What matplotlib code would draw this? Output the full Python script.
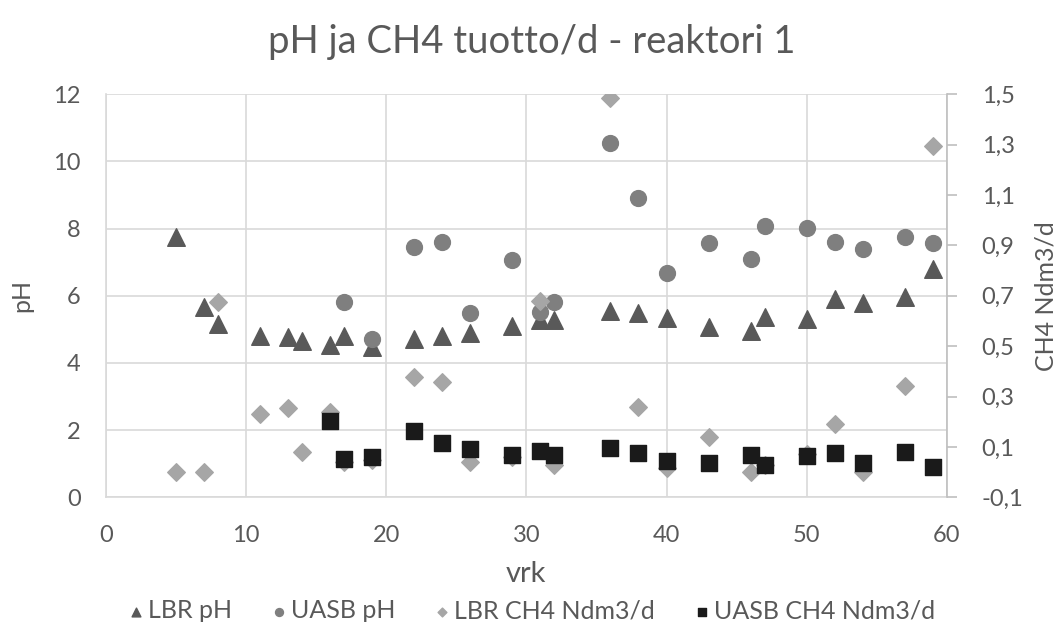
import numpy as np
import matplotlib
matplotlib.use("Agg")
import matplotlib.pyplot as plt
from matplotlib.ticker import FuncFormatter

plt.rcParams['font.family'] = ['Lato', 'DejaVu Sans']

# LBR pH (left axis)
lbr_ph_day = [5, 7, 8, 11, 13, 14, 16, 17, 19, 22, 24, 26, 29, 31, 32, 36, 38, 40,
              43, 46, 47, 50, 52, 54, 57, 59]
lbr_ph = [7.75, 5.67, 5.16, 4.81, 4.78, 4.66, 4.53, 4.81, 4.48, 4.70, 4.81, 4.88, 5.10,
          5.28, 5.28, 5.54, 5.49, 5.33, 5.08, 4.96, 5.36, 5.31, 5.90, 5.80, 5.97, 6.81]

# UASB pH (left axis)
uasb_ph_day = [17, 19, 22, 24, 26, 29, 31, 32, 36, 38, 40, 43, 46, 47, 50, 52, 54, 57, 59]
uasb_ph = [5.82, 4.70, 7.46, 7.61, 5.48, 7.06, 5.52, 5.82, 10.55, 8.92, 6.67, 7.56, 7.11,
           8.07, 8.02, 7.61, 7.39, 7.74, 7.56]

# LBR CH4 Ndm3/d (right axis)
lbr_ch4_day = [5, 7, 8, 11, 13, 14, 16, 17, 19, 22, 24, 26, 29, 31, 32, 36, 38, 40,
               43, 46, 47, 50, 52, 54, 57, 59]
lbr_ch4 = [0.0, 0.0, 0.674, 0.23, 0.253, 0.081, 0.24, 0.04, 0.05, 0.379, 0.356, 0.041,
           0.06, 0.68, 0.028, 1.484, 0.257, 0.015, 0.138, 0.002, 0.03, 0.07, 0.191, 0.0,
           0.342, 1.296]

# UASB CH4 Ndm3/d (right axis)
uasb_ch4_day = [16, 17, 19, 22, 24, 26, 29, 31, 32, 36, 38, 40, 43, 46, 47, 50, 52, 54, 57, 59]
uasb_ch4 = [0.204, 0.052, 0.061, 0.164, 0.114, 0.09, 0.068, 0.084, 0.068, 0.097, 0.075,
            0.045, 0.035, 0.068, 0.028, 0.065, 0.075, 0.037, 0.081, 0.021]

TXT = '#595959'
GRID = '#d9d9d9'

fig = plt.figure(figsize=(10.64, 6.26), dpi=100)
ax = fig.add_axes([0.0993, 0.2056, 0.7907, 0.6438])
ax2 = ax.twinx()

ax.scatter(lbr_ph_day, lbr_ph, marker='^', s=160, color='#595959', label='LBR pH', zorder=3)
ax.scatter(uasb_ph_day, uasb_ph, marker='o', s=130, color='#7f7f7f', label='UASB pH', zorder=4)
ax2.scatter(lbr_ch4_day, lbr_ch4, marker='D', s=80, color='#a6a6a6', label='LBR CH4 Ndm3/d', zorder=3)
ax2.scatter(uasb_ch4_day, uasb_ch4, marker='s', s=140, color='#1a1a1a', label='UASB CH4 Ndm3/d', zorder=4)

ax.set_xlim(0, 60)
ax.set_ylim(0, 12)
ax.set_xticks(np.arange(0, 61, 10))
ax.set_yticks(np.arange(0, 13, 2))
ax2.set_ylim(-0.1, 1.5)
ax2.set_yticks(np.arange(-0.1, 1.51, 0.2))
ax2.yaxis.set_major_formatter(FuncFormatter(lambda v, p: ('%.1f' % v).replace('.', ',')))

ax.grid(True, color=GRID, linewidth=1.2)
ax.set_axisbelow(True)
for s in ['top', 'right']:
    ax.spines[s].set_visible(False)
ax.spines['left'].set_color(GRID)
ax.spines['left'].set_linewidth(1.2)
ax.spines['bottom'].set_color(GRID)
ax.spines['bottom'].set_linewidth(1.2)
for s in ['top', 'left', 'bottom']:
    ax2.spines[s].set_visible(False)
ax2.spines['right'].set_color('#bfbfbf')
ax2.spines['right'].set_linewidth(1.2)

ax.tick_params(axis='y', length=0, labelsize=17, labelcolor=TXT, pad=18)
ax.tick_params(axis='x', length=0, labelsize=17, labelcolor=TXT, pad=20)
ax2.tick_params(axis='y', length=7, width=1.2, color='#bfbfbf', labelsize=17, labelcolor=TXT, pad=18)

ax.set_xlabel('vrk', fontsize=21, color=TXT, labelpad=11)
ax.set_ylabel('pH', fontsize=18, color=TXT, labelpad=14)
ax2.set_ylabel('CH4 Ndm3/d', fontsize=18, color=TXT, labelpad=8)
fig.suptitle('pH ja CH4 tuotto/d - reaktori 1', fontsize=27.5, color=TXT, y=0.962)

h1, l1 = ax.get_legend_handles_labels()
h2, l2 = ax2.get_legend_handles_labels()
fig.legend(h1 + h2, l1 + l2, loc='lower center', bbox_to_anchor=(0.5, -0.03), ncol=4,
           frameon=False, fontsize=18, labelcolor=TXT, markerscale=0.5,
           handlelength=0.55, handletextpad=0.2, columnspacing=1.6)

fig.savefig('out.png', dpi=100)
